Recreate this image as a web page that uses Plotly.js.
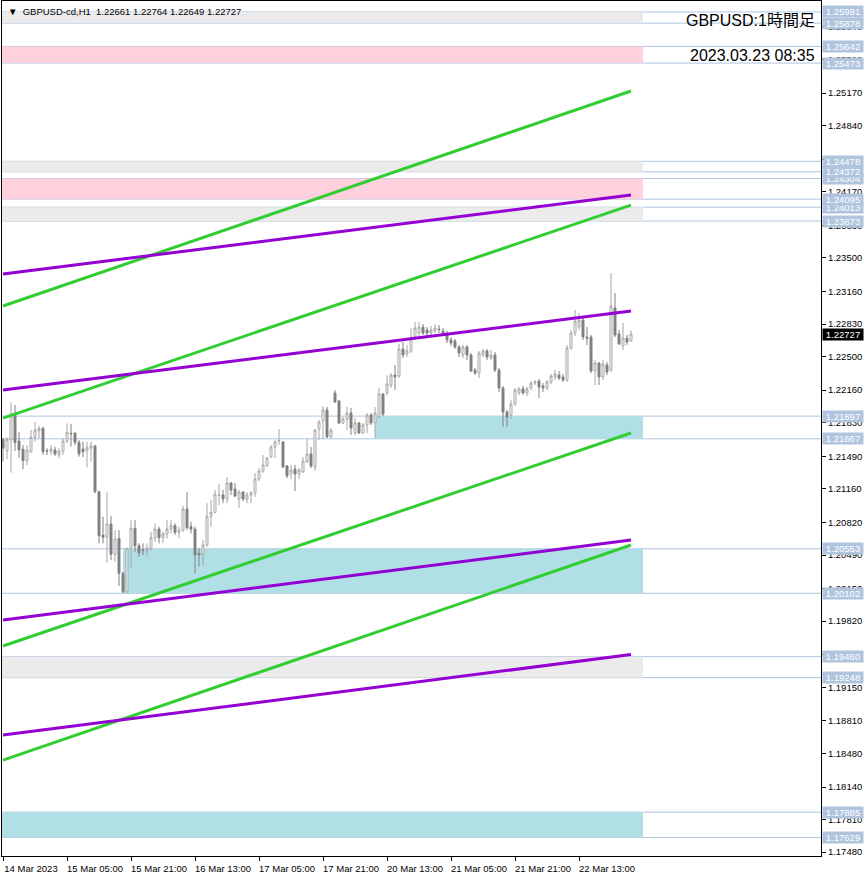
<!DOCTYPE html>
<html><head><meta charset="utf-8">
<script src="https://cdn.plot.ly/plotly-3.0.1.min.js"></script>
<style>html,body{margin:0;padding:0;background:#fff}#chart{width:866px;height:876px}</style>
</head><body><div id="chart"></div>
<script>
// ---- data ----
const timeLabels = ['14 Mar 2023','15 Mar 05:00','15 Mar 21:00','16 Mar 13:00','17 Mar 05:00','17 Mar 21:00','20 Mar 13:00','21 Mar 05:00','21 Mar 21:00','22 Mar 13:00'];
const labelBars = [0,16,32,48,64,80,96,112,128,144];

const openP = [1.21662,1.21546,1.21655,1.21918,1.21645,1.21561,1.21445,1.21536,1.21682,1.21749,
1.21773,1.21546,1.21536,1.21554,1.21503,1.21543,1.21645,1.21723,1.21723,1.21631,
1.21564,1.21546,1.21571,1.21594,1.21131,1.20692,1.20669,1.20804,1.20497,1.20659,
1.20304,1.20118,1.20558,1.20760,1.20584,1.20541,1.20531,1.20558,1.20665,1.20753,
1.20665,1.20703,1.20753,1.20787,1.20720,1.20743,1.20956,1.20777,1.20753,1.20507,
1.20500,1.20591,1.20878,1.20922,1.21093,1.21098,1.21057,1.21219,1.21159,1.21057,
1.21128,1.21057,1.21098,1.21118,1.21260,1.21341,1.21392,1.21483,1.21584,1.21645,
1.21635,1.21392,1.21311,1.21361,1.21311,1.21331,1.21432,1.21513,1.21382,1.21766,
1.21847,1.21959,1.21686,1.22131,1.22050,1.21827,1.21867,1.21928,1.21726,1.21827,
1.21726,1.21807,1.21908,1.21827,1.21888,1.22121,1.22131,1.22212,1.22313,1.22303,
1.22577,1.22526,1.22557,1.22698,1.22739,1.22799,1.22769,1.22739,1.22759,1.22779,
1.22759,1.22739,1.22668,1.22658,1.22597,1.22516,1.22597,1.22516,1.22364,1.22333,
1.22516,1.22557,1.22485,1.22516,1.22364,1.22182,1.21938,1.21908,1.22020,1.22131,
1.22172,1.22131,1.22182,1.22232,1.22253,1.22202,1.22182,1.22243,1.22293,1.22313,
1.22293,1.22263,1.22587,1.22739,1.22799,1.22870,1.22698,1.22698,1.22354,1.22435,
1.22293,1.22415,1.22364,1.22992,1.22729,1.22607,1.22688,1.22661];

const highP = [1.21672,1.21682,1.22037,1.22009,1.21733,1.21604,1.21604,1.21756,1.21840,1.21800,
1.21790,1.21571,1.21604,1.21587,1.21571,1.21672,1.21824,1.21817,1.21739,1.21655,
1.21638,1.21638,1.21638,1.21604,1.21141,1.20878,1.21125,1.20885,1.20743,1.20743,
1.20321,1.20560,1.20844,1.20844,1.20608,1.20608,1.20608,1.20726,1.20811,1.20777,
1.20726,1.20844,1.20844,1.20811,1.20777,1.20989,1.21125,1.20828,1.20777,1.20558,
1.20642,1.21014,1.21047,1.21149,1.21209,1.21149,1.21280,1.21229,1.21219,1.21149,
1.21138,1.21128,1.21138,1.21321,1.21372,1.21503,1.21483,1.21604,1.21655,1.21766,
1.21645,1.21402,1.21402,1.21402,1.21372,1.21483,1.21665,1.21584,1.21766,1.21857,
1.21999,1.21989,1.21776,1.22161,1.22060,1.21888,1.21989,1.21979,1.21877,1.21837,
1.21827,1.21928,1.21928,1.21989,1.22182,1.22131,1.22313,1.22333,1.22415,1.22628,
1.22648,1.22617,1.22789,1.22850,1.22850,1.22830,1.22799,1.22810,1.22830,1.22820,
1.22789,1.22759,1.22698,1.22678,1.22617,1.22617,1.22617,1.22536,1.22384,1.22557,
1.22577,1.22577,1.22567,1.22546,1.22384,1.22202,1.21959,1.22060,1.22182,1.22192,
1.22202,1.22192,1.22253,1.22263,1.22273,1.22232,1.22263,1.22323,1.22364,1.22354,
1.22323,1.22617,1.22769,1.22972,1.22941,1.22891,1.22799,1.22719,1.22465,1.22445,
1.22465,1.22445,1.23347,1.23144,1.22769,1.22840,1.22719,1.22764];

const lowP = [1.21435,1.21462,1.21324,1.21543,1.21475,1.21358,1.21402,1.21526,1.21638,1.21672,
1.21503,1.21503,1.21503,1.21493,1.21470,1.21503,1.21622,1.21587,1.21604,1.21486,
1.21480,1.21378,1.21435,1.21115,1.20608,1.20608,1.20412,1.20439,1.20422,1.20176,
1.20101,1.20111,1.20365,1.20523,1.20473,1.20490,1.20473,1.20534,1.20625,1.20608,
1.20608,1.20659,1.20709,1.20692,1.20659,1.20720,1.20743,1.20709,1.20304,1.20371,
1.20378,1.20574,1.20777,1.20912,1.20996,1.21016,1.21016,1.21098,1.21077,1.20966,
1.21037,1.21016,1.21016,1.21077,1.21240,1.21321,1.21382,1.21473,1.21473,1.21604,
1.21372,1.21270,1.21260,1.21138,1.21260,1.21321,1.21422,1.21372,1.21341,1.21655,
1.21665,1.21675,1.21675,1.22030,1.21817,1.21817,1.21756,1.21706,1.21706,1.21716,
1.21716,1.21726,1.21807,1.21675,1.21877,1.21898,1.22111,1.22182,1.22161,1.22283,
1.22485,1.22496,1.22536,1.22668,1.22698,1.22719,1.22708,1.22719,1.22739,1.22739,
1.22708,1.22637,1.22607,1.22577,1.22496,1.22485,1.22465,1.22344,1.22313,1.22283,
1.22496,1.22465,1.22465,1.22344,1.22141,1.21786,1.21786,1.21867,1.21999,1.22111,
1.22111,1.22101,1.22161,1.22212,1.22080,1.22141,1.22161,1.22222,1.22263,1.22263,
1.22243,1.22243,1.22567,1.22708,1.22769,1.22668,1.22617,1.22333,1.22212,1.22212,
1.22263,1.22313,1.22344,1.22698,1.22617,1.22567,1.22617,1.22649];

const closeP = [1.21571,1.21662,1.21918,1.21631,1.21554,1.21445,1.21554,1.21682,1.21756,1.21773,
1.21536,1.21543,1.21564,1.21513,1.21543,1.21645,1.21733,1.21719,1.21631,1.21513,
1.21536,1.21577,1.21594,1.21131,1.20685,1.20669,1.20804,1.20497,1.20652,1.20304,
1.20118,1.20558,1.20760,1.20584,1.20513,1.20538,1.20558,1.20665,1.20753,1.20665,
1.20703,1.20753,1.20787,1.20720,1.20743,1.20956,1.20767,1.20753,1.20490,1.20490,
1.20591,1.20878,1.20922,1.21105,1.21098,1.21057,1.21219,1.21149,1.21088,1.21128,
1.21057,1.21098,1.21118,1.21260,1.21341,1.21402,1.21473,1.21584,1.21635,1.21650,
1.21382,1.21290,1.21351,1.21311,1.21351,1.21442,1.21513,1.21392,1.21756,1.21837,
1.21959,1.21686,1.21756,1.22040,1.21827,1.21867,1.21928,1.21776,1.21827,1.21726,
1.21807,1.21908,1.21827,1.21928,1.22121,1.21918,1.22222,1.22313,1.22293,1.22577,
1.22516,1.22557,1.22698,1.22789,1.22799,1.22739,1.22739,1.22769,1.22789,1.22774,
1.22739,1.22668,1.22637,1.22597,1.22536,1.22597,1.22516,1.22354,1.22333,1.22536,
1.22557,1.22496,1.22516,1.22364,1.22182,1.21938,1.21888,1.22020,1.22161,1.22172,
1.22131,1.22172,1.22232,1.22243,1.22192,1.22182,1.22243,1.22303,1.22323,1.22283,
1.22263,1.22587,1.22739,1.22860,1.22870,1.22698,1.22688,1.22354,1.22435,1.22293,
1.22425,1.22344,1.23012,1.22719,1.22628,1.22688,1.22648,1.22727];

// channel lines: price at first and last anchor bar
const lineBars = [0, 157];
const greenFrom  = [1.23012, 1.21877, 1.19568, 1.18413];
const greenTo    = [1.25190, 1.24035, 1.21726, 1.20591];
const purpleFrom = [1.23336, 1.22161, 1.19831, 1.18666];
const purpleTo   = [1.24137, 1.22962, 1.20642, 1.19481];

// zones
const zoneHigh = [1.25991, 1.25642, 1.24478, 1.24304, 1.24013, 1.21897, 1.20553, 1.19460, 1.17885];
const zoneLow  = [1.25878, 1.25473, 1.24372, 1.24095, 1.23873, 1.21667, 1.20102, 1.19248, 1.17629];
const zoneFrom = [-10, -10, -10, -10, -10, 93, 30, -10, -10];
const zoneTo   = 160;
const zoneKind = ['gray','pink','gray','pink','gray','cyan','cyan','gray','cyan'];

const yTicks = [1.25840,1.25510,1.25170,1.24840,1.24500,1.24170,1.23830,1.23500,1.23160,1.22830,
1.22500,1.22160,1.21830,1.21490,1.21160,1.20820,1.20490,1.20150,1.19820,1.19480,
1.19150,1.18810,1.18480,1.18140,1.17810,1.17480];

const symbolHeader = '▼  GBPUSD-cd,H1  1.22661 1.22764 1.22649 1.22727';
const titleText = 'GBPUSD:1時間足';
const dateText = '2023.03.23 08:35';
const lastPrice = 1.22727;

// ---- styles ----
const zoneColor = {gray:'#ebebeb', pink:'#ffd1dc', cyan:'#b0e0e6'};
const levelLine = '#b0c4de';
const axisFont = {family:'Liberation Sans, DejaVu Sans, sans-serif', size:9.5, color:'#000'};

const bars = openP.map((_, i) => i);

const traces = [];
traces.push({
  type:'candlestick', x:bars, open:openP, high:highP, low:lowP, close:closeP,
  increasing:{line:{color:'#a6a6a6', width:1}, fillcolor:'#ffffff'},
  decreasing:{line:{color:'#808080', width:1}, fillcolor:'#808080'},
  whiskerwidth:0, hoverinfo:'skip', showlegend:false
});
greenFrom.forEach((v, k) => traces.push({
  type:'scatter', mode:'lines', x:lineBars, y:[v, greenTo[k]],
  line:{color:'#32cd32', width:3}, hoverinfo:'skip', showlegend:false
}));
purpleFrom.forEach((v, k) => traces.push({
  type:'scatter', mode:'lines', x:lineBars, y:[v, purpleTo[k]],
  line:{color:'#9400d3', width:3}, hoverinfo:'skip', showlegend:false
}));

const shapes = [];
zoneHigh.forEach((h, k) => {
  shapes.push({type:'rect', xref:'x', yref:'y', x0:zoneFrom[k], x1:zoneTo, y0:zoneLow[k], y1:h,
    fillcolor:zoneColor[zoneKind[k]], line:{width:0}, layer:'below'});
});
zoneHigh.concat(zoneLow).forEach(p => {
  shapes.push({type:'line', xref:'paper', yref:'y', x0:0, x1:1, y0:p, y1:p,
    line:{color:levelLine, width:1}, layer:'below'});
});

const annotations = [];
zoneHigh.concat(zoneLow).forEach(p => {
  annotations.push({xref:'paper', yref:'y', x:1, y:p, xanchor:'left', yanchor:'middle', xshift:1,
    text:p.toFixed(5), showarrow:false, bgcolor:levelLine, width:40, height:11, borderpad:0,
    font:{family:axisFont.family, size:9.5, color:'#ffffff'}});
});
annotations.push({xref:'paper', yref:'y', x:1, y:lastPrice, xanchor:'left', yanchor:'middle', xshift:1,
  text:lastPrice.toFixed(5), showarrow:false, bgcolor:'#000000', width:40, height:11, borderpad:0,
  font:{family:axisFont.family, size:9.5, color:'#ffffff'}});
annotations.push({xref:'paper', yref:'paper', x:0, y:1, xanchor:'left', yanchor:'top', xshift:4, yshift:-3,
  text:symbolHeader, showarrow:false, font:{family:axisFont.family, size:9.5, color:'#000'}});
annotations.push({xref:'paper', yref:'paper', x:1, y:1, xanchor:'right', yanchor:'middle', xshift:-4, yshift:-19,
  text:titleText, showarrow:false, font:{family:'Liberation Sans, Noto Sans CJK JP, sans-serif', size:16, color:'#000'}});
annotations.push({xref:'paper', yref:'paper', x:1, y:1, xanchor:'right', yanchor:'middle', xshift:-4, yshift:-54,
  text:dateText, showarrow:false, font:{family:'Liberation Sans, Noto Sans CJK JP, sans-serif', size:16, color:'#000'}});

const layout = {
  width:866, height:876,
  margin:{l:2, r:45, t:1, b:20, pad:0},
  paper_bgcolor:'#ffffff', plot_bgcolor:'#ffffff',
  showlegend:false,
  xaxis:{range:[-0.25, 204.5], showgrid:false, zeroline:false, showline:true, mirror:true,
    linecolor:'#000', linewidth:1, ticks:'outside', ticklen:4, tickcolor:'#000',
    tickvals:labelBars, ticktext:timeLabels, tickfont:axisFont, ticklabelshift:28,
    rangeslider:{visible:false}, fixedrange:true},
  yaxis:{side:'right', range:[1.17441, 1.26102], showgrid:false, zeroline:false, showline:true, mirror:true,
    linecolor:'#000', linewidth:1, ticks:'outside', ticklen:4, tickcolor:'#000',
    tickvals:yTicks, ticktext:yTicks.map(v => v.toFixed(5)), tickfont:axisFont, fixedrange:true},
  shapes:shapes, annotations:annotations
};

Plotly.newPlot('chart', traces, layout, {staticPlot:true, displayModeBar:false});
</script>
</body></html>
